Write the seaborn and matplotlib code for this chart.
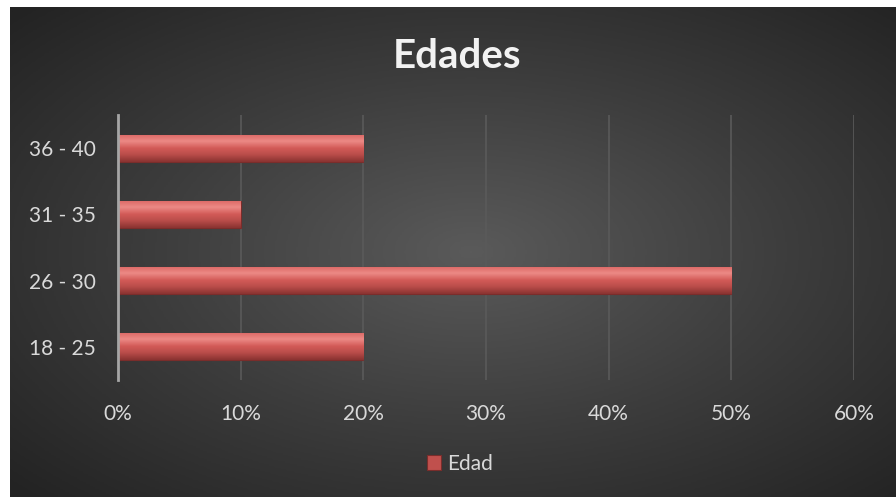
import numpy as np
import pandas as pd
import seaborn as sns
import matplotlib.pyplot as plt
from matplotlib.ticker import PercentFormatter
from matplotlib.colors import LinearSegmentedColormap

# datos
rangos = ["36 - 40", "31 - 35", "26 - 30", "18 - 25"]
porcentajes = [0.20, 0.10, 0.50, 0.20]
xticks = [0, 0.1, 0.2, 0.3, 0.4, 0.5, 0.6]
titulo = "Edades"
serie = "Edad"

df = pd.DataFrame({"Rango": rangos, "Porcentaje": porcentajes})

sns.set_theme(style="white")
plt.rcParams['font.family'] = ['Lato', 'DejaVu Sans']

texto = "#d9d9d9"
rojo = "#c0504d"

fig = plt.figure(figsize=(8.96, 5), dpi=100, facecolor="white")

# fondo con degradado radial
bg = fig.add_axes([10 / 896, 3 / 500, 886 / 896, 490 / 500])
bg.set_axis_off()
yy, xx = np.mgrid[0:1:300j, 0:1:500j]
r = np.sqrt(((xx - 0.52) / 0.75) ** 2 + ((yy - 0.5) / 0.75) ** 2)
r = np.clip(r / 0.95, 0, 1)
cmap_bg = LinearSegmentedColormap.from_list("bg", ["#5a5a5a", "#3d3d3d", "#232323"])
bg.imshow(r, cmap=cmap_bg, aspect="auto", extent=[0, 1, 0, 1], vmin=0, vmax=1)

ax = fig.add_axes([118 / 896, 120 / 500, 736 / 896, 265 / 500])
ax.patch.set_alpha(0)

sns.barplot(data=df, x="Porcentaje", y="Rango", order=rangos, orient="h",
            color=rojo, width=0.41, saturation=1, label=serie, ax=ax,
            edgecolor="#7a2d2b", linewidth=0.8)

# degradado vertical dentro de cada barra (efecto bisel)
grad = LinearSegmentedColormap.from_list(
    "bar", ["#8a3331", "#b84c49", "#d35b58", "#ec8a86", "#dc6764"])
g = np.linspace(0, 1, 64).reshape(-1, 1)
for p in ax.patches:
    x0, y0 = p.get_x(), p.get_y()
    w, h = p.get_width(), p.get_height()
    im = ax.imshow(g, cmap=grad, aspect="auto", origin="lower",
                   extent=[x0, x0 + w, y0 + h, y0], zorder=p.get_zorder() + 0.1)
    im.set_clip_path(p)

ax.set_xlim(0, 0.6)
ax.set_ylim(3.5, -0.5)
ax.set_xticks(xticks)
ax.xaxis.set_major_formatter(PercentFormatter(1.0, decimals=0))
ax.grid(axis="x", color="#5a5a5a", linewidth=1.2)
ax.set_axisbelow(True)
for s in ["top", "right", "bottom"]:
    ax.spines[s].set_visible(False)
ax.spines["left"].set_color("#a6a6a6")
ax.spines["left"].set_linewidth(2)
ax.spines["left"].set_zorder(5)
ax.tick_params(axis="x", length=0, pad=17, labelcolor=texto, labelsize=15)
ax.tick_params(axis="y", length=0, pad=16, labelcolor=texto, labelsize=15)
ax.set_xlabel("")
ax.set_ylabel("")

leg = ax.legend(loc="center", bbox_to_anchor=(460 / 896, 1 - 464 / 500),
                bbox_transform=fig.transFigure, frameon=False,
                handlelength=0.7, handleheight=0.7, handletextpad=0.3,
                fontsize=15, labelcolor=texto)

fig.text(457 / 896, 1 - 57 / 500, titulo, ha="center", va="center",
         fontsize=29, fontweight="bold", color="#f2f2f2")

plt.savefig("out.png", dpi=100, facecolor="white")
